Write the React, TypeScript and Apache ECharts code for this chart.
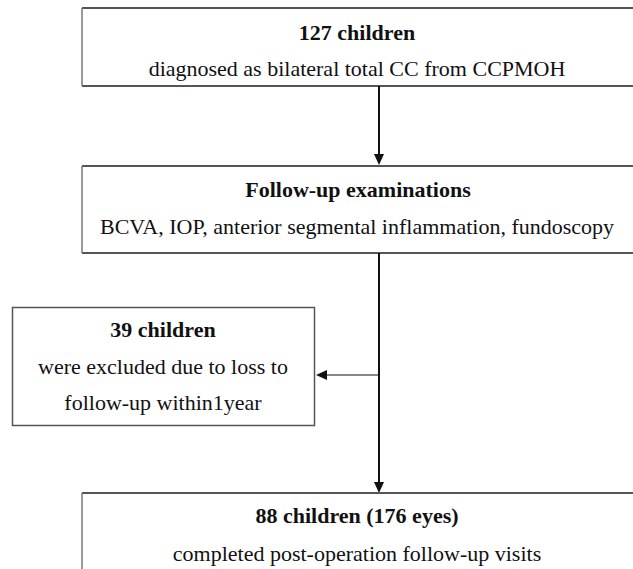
import React, { useEffect, useRef } from "react";
import * as echarts from "echarts";

const boxTitles = ["127 children", "Follow-up examinations", "39 children", "88 children (176 eyes)"];
const boxLines = [
  ["diagnosed as bilateral total CC from CCPMOH"],
  ["BCVA, IOP, anterior segmental inflammation, fundoscopy"],
  ["were excluded due to loss to", "follow-up within1year"],
  ["completed post-operation follow-up visits"],
];

const FONT = "Liberation Serif";
const LINE = "#555";

export default function App() {
  const ref = useRef<HTMLDivElement>(null);
  useEffect(() => {
    document.body.style.margin = "0";
    const chart = echarts.init(ref.current!, null, { renderer: "svg" });
    const W = 633;
    const L = 82;
    const cx = 379;
    const elements: any[] = [];
    const hline = (x1: number, x2: number, y: number, color = LINE, w = 2) =>
      elements.push({ type: "line", shape: { x1, y1: y, x2, y2: y }, style: { stroke: color, lineWidth: w } });
    const vline = (x: number, y1: number, y2: number, color = "#111", w = 2) =>
      elements.push({ type: "line", shape: { x1: x, y1, x2: x, y2 }, style: { stroke: color, lineWidth: w } });
    const text = (t: string, x: number, y: number, bold: boolean) =>
      elements.push({
        type: "text",
        x,
        y,
        style: {
          text: t,
          fill: "#111",
          fontFamily: FONT,
          fontSize: 22,
          fontWeight: bold ? "bold" : "normal",
          align: "center",
          verticalAlign: "middle",
        },
      });

    // Box 1
    hline(L, W, 8);
    hline(L, W, 86);
    vline(L, 8, 86, "#777", 1.5);
    text(boxTitles[0], 357, 32, true);
    text(boxLines[0][0], 357, 68, false);

    // arrow 1
    vline(cx, 86, 156);
    elements.push({ type: "polygon", shape: { points: [[cx - 5, 154], [cx + 5, 154], [cx, 165]] }, style: { fill: "#111" } });

    // Box 2
    hline(L, W, 166);
    hline(L, W, 253);
    vline(L, 166, 253, "#777", 1.5);
    text(boxTitles[1], 358, 189, true);
    text(boxLines[1][0], 357, 226, false);

    // Box 3
    elements.push({
      type: "rect",
      shape: { x: 12.5, y: 307.5, width: 302, height: 118 },
      style: { fill: "#fff", stroke: LINE, lineWidth: 1.5 },
    });
    text(boxTitles[2], 163, 329, true);
    text(boxLines[2][0], 163, 366, false);
    text(boxLines[2][1], 163, 402, false);

    // arrow to left
    vline(cx, 253, 484);
    hline(326, cx, 375, "#111", 1.2);
    elements.push({ type: "polygon", shape: { points: [[327, 370], [327, 380], [316, 375]] }, style: { fill: "#111" } });
    elements.push({ type: "polygon", shape: { points: [[cx - 5, 482], [cx + 5, 482], [cx, 493]] }, style: { fill: "#111" } });

    // Box 4
    hline(L, W, 493);
    vline(L, 493, 569, "#777", 1.5);
    text(boxTitles[3], 357, 515, true);
    text(boxLines[3][0], 357, 553, false);

    chart.setOption({
      animation: false,
      backgroundColor: "#fff",
      graphic: { elements },
    });
    return () => chart.dispose();
  }, []);
  return <div ref={ref} style={{ width: 633, height: 569 }} />;
}
